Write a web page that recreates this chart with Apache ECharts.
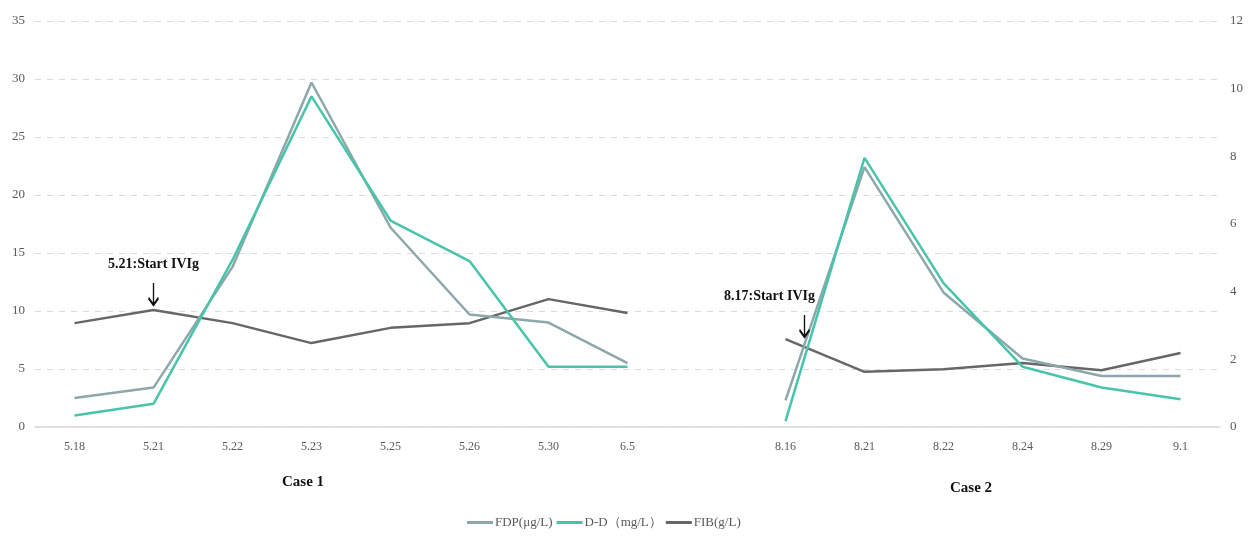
<!DOCTYPE html>
<html><head><meta charset="utf-8">
<script src="https://cdn.jsdelivr.net/npm/echarts@6/dist/echarts.min.js"></script>
<style>html,body{margin:0;padding:0;background:#fff}#c{width:1256px;height:540px}</style>
</head><body><div id="c"></div>
<script>
var categories = ['5.18','5.21','5.22','5.23','5.25','5.26','5.30','6.5','','8.16','8.21','8.22','8.24','8.29','9.1'];
var fdp = [2.5, 3.4, 13.8, 29.7, 17.2, 9.7, 9.0, 5.5, null, 2.3, 22.4, 11.6, 5.9, 4.4, 4.4];
var dd  = [1.0, 2.0, 14.4, 28.5, 17.8, 14.3, 5.2, 5.2, null, 0.5, 23.2, 12.4, 5.2, 3.4, 2.4];
var fib = [3.07, 3.46, 3.07, 2.48, 2.93, 3.07, 3.78, 3.37, null, 2.6, 1.63, 1.71, 1.89, 1.68, 2.19];
var leftTicks = [0, 35, 5];
var rightTicks = [0, 12, 2];
var seriesNames = ['FDP(μg/L)', 'D-D（mg/L）', 'FIB(g/L)'];
var notes = [{cat: '5.21', val: 3.46, text: '5.21:Start IVIg'}, {cat: '8.16', val: 2.6, text: '8.17:Start IVIg'}];
var caseLabels = ['Case 1', 'Case 2'];

var serif = '"Liberation Serif", "DejaVu Serif", serif';
var arrow = 'path://M5 0 L5 22 M0.5 15 L5 22 L9.5 15';
var chart = echarts.init(document.getElementById('c'));
chart.setOption({
  animation: false,
  color: ['#8ea7aa', '#48c4ab', '#676767'],
  grid: {left: 35, right: 36, top: 21, bottom: 113},
  legend: {
    bottom: 6, left: 462, itemWidth: 26, itemHeight: 3, itemGap: 4,
    icon: 'rect',
    textStyle: {fontFamily: serif, fontSize: 13, color: '#595959', padding: [0, 0, 0, -3]},
    data: seriesNames
  },
  xAxis: {
    type: 'category', data: categories, boundaryGap: true,
    axisLine: {lineStyle: {color: '#d9d9d9', width: 1.5}},
    axisTick: {show: false},
    axisLabel: {fontFamily: serif, fontSize: 12, color: '#595959', margin: 14, interval: 0}
  },
  yAxis: [{
    type: 'value', min: leftTicks[0], max: leftTicks[1], interval: leftTicks[2],
    axisLine: {show: false}, axisTick: {show: false},
    axisLabel: {fontFamily: serif, fontSize: 13, color: '#595959', margin: 10},
    splitLine: {lineStyle: {type: [6, 6], color: '#dcdcdc'}}
  }, {
    type: 'value', min: rightTicks[0], max: rightTicks[1], interval: rightTicks[2],
    axisLine: {show: false}, axisTick: {show: false},
    axisLabel: {fontFamily: serif, fontSize: 13, color: '#595959', margin: 10},
    splitLine: {show: false}
  }],
  series: [{
    name: seriesNames[0], type: 'line', data: fdp, yAxisIndex: 0,
    showSymbol: false, lineStyle: {width: 2.5}, z: 3
  }, {
    name: seriesNames[1], type: 'line', data: dd, yAxisIndex: 0,
    showSymbol: false, lineStyle: {width: 2.5}, z: 4
  }, {
    name: seriesNames[2], type: 'line', data: fib, yAxisIndex: 1,
    showSymbol: false, lineStyle: {width: 2.5}, z: 2,
    markPoint: {
      silent: true,
      symbol: arrow,
      symbolSize: [10, 22],
      itemStyle: {color: 'none', borderColor: '#111', borderWidth: 2},
      label: {show: true, position: 'top', distance: 8, fontFamily: serif, fontWeight: 'bold', fontSize: 14, color: '#111'},
      data: [
        {coord: [notes[0].cat, notes[0].val], symbolOffset: [0, -16], label: {formatter: notes[0].text}},
        {coord: [notes[1].cat, notes[1].val], symbolOffset: [19, -13], label: {formatter: notes[1].text, offset: [-35, 0]}}
      ]
    }
  }],
  graphic: [
    {type: 'text', left: 282, top: 475, style: {text: caseLabels[0], font: 'bold 15px ' + serif, fill: '#111'}},
    {type: 'text', left: 950, top: 481, style: {text: caseLabels[1], font: 'bold 15px ' + serif, fill: '#111'}}
  ]
});
</script>
</body></html>
